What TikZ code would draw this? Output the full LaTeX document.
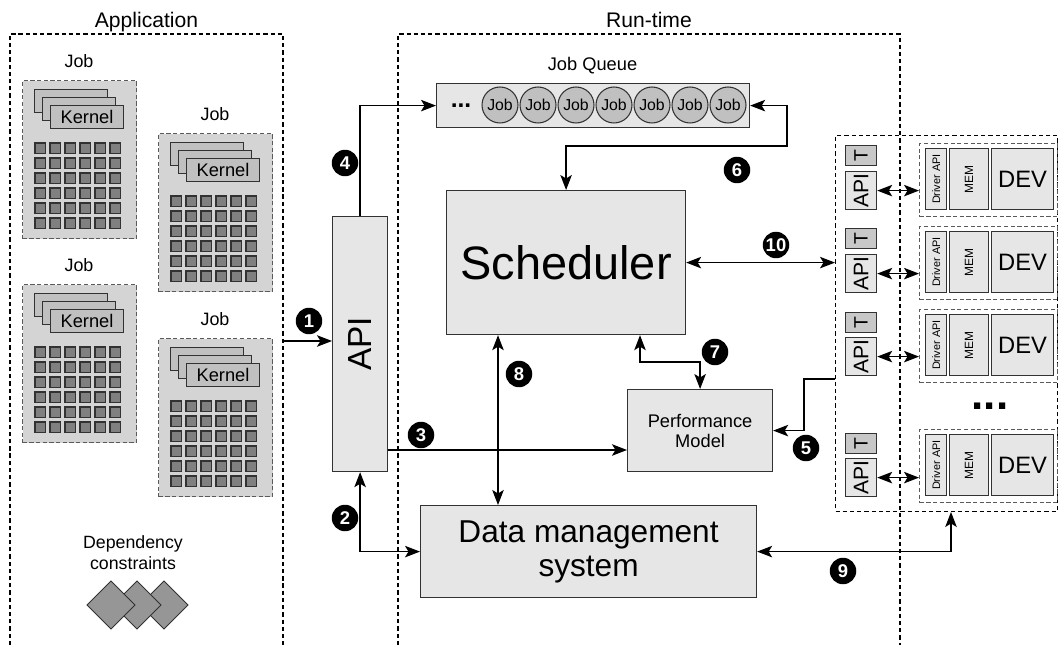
\documentclass[tikz,border=0pt]{standalone}
\usepackage{fontspec}
\setmainfont{Liberation Sans}
\usepackage{graphicx}
\usetikzlibrary{arrows.meta}

\definecolor{boxfill}{RGB}{230,230,230}
\definecolor{jobfill}{RGB}{212,212,212}
\definecolor{kernfill}{RGB}{192,192,192}
\definecolor{cellfill}{RGB}{128,128,128}
\definecolor{tokfill}{RGB}{192,192,192}
\definecolor{tagfill}{RGB}{200,200,200}
\definecolor{diafill}{RGB}{150,150,150}
\definecolor{edge}{RGB}{50,50,50}
\definecolor{dashgray}{RGB}{90,90,90}

% font size helper: size and baseline skip in pt
\newcommand\fs[2]{\fontsize{#1pt}{#2pt}\selectfont}

% rectangle node from top-left (x1,y1) to bottom-right (x2,y2), pixel units
\newcommand\pxbox[7]{%
  \node[#1, inner sep=0pt, anchor=north west,
        minimum width={(#5-#3)*0.2mm}, minimum height={(#6-#4)*0.2mm}]
        (#2) at (#3,#4) {#7};}

% one job: dashed panel, title, stacked kernels and a 6x6 data grid
\newcommand\jobblock[3]{%
  \node[jobbox, anchor=north west, minimum width=22.8mm, minimum height=31.6mm] (#1) at (#2,#3) {};
  \node[lbl, anchor=base, font=\fs{10.2}{12}] (#1-t) at (#2+57,#3-12) {Job};
  \node[kern, anchor=north west, minimum width=14.6mm, minimum height=4.6mm] (#1-k3) at (#2+12,#3+9) {};
  \node[kern, anchor=north west, minimum width=14.6mm, minimum height=4.6mm] (#1-k2) at (#2+20,#3+17) {};
  \node[kern, anchor=north west, minimum width=14.6mm, minimum height=4.6mm, font=\fs{10.4}{12}] (#1-k1) at (#2+28,#3+25) {Kernel};
  \foreach \i in {0,...,5} \foreach \j in {0,...,5}
    \draw[cell] (#2+13+15*\i, #3+63+15*\j) rectangle ++(10.5,10.5);
}

\tikzset{
  frame/.style={draw=black, line width=0.6pt, dash pattern=on 2.4pt off 1.7pt},
  blk/.style={draw=edge, fill=boxfill, line width=0.7pt, inner sep=0pt, align=center},
  jobbox/.style={draw=dashgray, fill=jobfill, line width=0.7pt, dash pattern=on 2.4pt off 1.4pt, inner sep=0pt},
  kern/.style={draw=edge, fill=kernfill, line width=0.6pt, inner sep=0pt},
  cell/.style={draw=edge, fill=cellfill, line width=0.6pt},
  tok/.style={circle, draw=edge, fill=tokfill, line width=0.6pt, minimum size=7.2mm, inner sep=0pt, font=\fs{9}{10}},
  tag/.style={draw=edge, fill=tagfill, line width=0.6pt, inner sep=0pt},
  devgrp/.style={draw=dashgray, line width=0.7pt, dash pattern=on 2.4pt off 1.4pt, inner sep=0pt},
  dia/.style={draw=edge, fill=diafill, line width=0.6pt},
  num/.style={circle, fill=black, text=white, font=\bfseries\fs{10.5}{11}, minimum size=5.3mm, inner sep=0pt},
  lbl/.style={inner sep=0pt},
  arr/.style={->, line width=0.7pt},
  dbl/.style={<->, line width=0.7pt},
}

\begin{document}
\begin{tikzpicture}[x=0.02cm, y=-0.02cm, >={Stealth[length=3mm,width=2.3mm,inset=0.7mm]}]
\useasboundingbox (0,0) rectangle (1059,645);

% ---------- section frames ----------
\draw[frame] (10,645) -- (10,34) -- (283,34) -- (283,645);
\draw[frame] (398,645) -- (398,34) -- (900,34) -- (900,645);
\node[lbl, anchor=base, font=\fs{12}{14}] (app-t) at (146.5,28) {Application};
\node[lbl, anchor=base, font=\fs{12}{14}] (rt-t) at (649,28) {Run-time};

% ---------- application side ----------
\jobblock{jobA}{22}{80}
\jobblock{jobB}{158}{133}
\jobblock{jobC}{22}{284}
\jobblock{jobD}{158}{338}

\node[lbl, align=center, font=\fs{10.1}{11.9}] (dep) at (133,553) {Dependency\\constraints};
\foreach \cx in {164,137,111}
  \draw[dia] (\cx-24,605) -- (\cx,581) -- (\cx+24,605) -- (\cx,629) -- cycle;

% ---------- runtime blocks ----------
\pxbox{blk}{api}{332}{216}{387}{471}{\rotatebox{90}{\fs{19}{20}API}}
\pxbox{blk}{queue}{436}{83}{749}{127}{}
\node[lbl, anchor=base, font=\fs{10.4}{12}] (queue-t) at (592.5,71) {Job Queue};
\node[lbl, anchor=base, font=\bfseries\fs{14}{14}] (queue-more) at (461,108) {...};
\foreach \k [count=\n] in {500,538,576,614,652,690,728}
  \node[tok] (job\n) at (\k,105) {Job};

\pxbox{blk, font=\fs{26.7}{28}}{sched}{446}{190}{685}{334}{Scheduler}
\pxbox{blk, font=\fs{10.4}{11.3}}{perf}{627}{389}{772}{471}{Performance\\Model}
\pxbox{blk, font=\fs{18}{19.3}}{dms}{420}{505}{756}{597}{Data management\\system}

% ---------- devices ----------
\pxbox{frame}{devs}{835}{135}{1057}{511}{}
\foreach \n/\t/\a/\d in {1/145/171/143, 2/228/254/226, 3/312/337/309, 4/433/458/429} {
  \node[tag, anchor=north west, minimum width=6.2mm, minimum height=4mm] (tag\n) at (845,\t) {\rotatebox{90}{\fs{11}{11}T}};
  \node[blk, anchor=north west, minimum width=6.2mm, minimum height=7.6mm] (hapi\n) at (845,\a) {\rotatebox{90}{\fs{12}{12}API}};
  \node[devgrp, anchor=north west, minimum width=27.6mm, minimum height=14.6mm] (grp\n) at (919,\d) {};
  \node[blk, anchor=north west, minimum width=4.2mm, minimum height=12.2mm] (drv\n) at (925,\d+5) {\rotatebox{90}{\fs{6.2}{6.5}Driver API}};
  \node[blk, anchor=north west, minimum width=7.8mm, minimum height=12.2mm] (mem\n) at (949,\d+5) {\rotatebox{90}{\fs{6.8}{7}MEM}};
  \node[blk, anchor=north west, minimum width=12.4mm, minimum height=12.2mm] (dev\n) at (991,\d+5) {\fs{13.5}{14}DEV};
  \draw[dbl] (hapi\n.east) -- (hapi\n.east -| grp\n.west);
}
\node[lbl, anchor=base, font=\bfseries\fs{25}{25}] (devs-more) at (990,410) {...};

% ---------- connectors ----------
\coordinate (appedge) at (283,341);
\coordinate (c3) at (400,450);
\coordinate (c5) at (804,379);
\coordinate (c6) at (787,146);
\coordinate (c7) at (640,362);
\coordinate (c8) at (498,400);
\coordinate (c9) at (951,550);

\draw[arr] (appedge) -- (appedge -| api.west);
\draw[dbl] (api.south) |- (dms.west);
\draw[arr] (api.east |- c3) -- (perf.west |- c3);
\draw[arr] (api.north) |- (queue.west);
\draw[arr] (devs.west |- c5) -| (c5 |- perf.east) -- (perf.east);
\draw[dbl] (queue.east) -| (c6) -| (sched.north);
\draw[dbl] (sched.south -| c7) |- (perf.north |- c7) -- (perf.north);
\draw[dbl] (sched.south -| c8) -- (dms.north -| c8);
\draw[dbl] (dms.east) -| (c9 |- devs.south);
\draw[dbl] (sched.east) -- (sched.east -| devs.west);

% ---------- step markers ----------
\node[num] (m1) at (309,321) {1};
\node[num] (m2) at (345,518) {2};
\node[num] (m3) at (421,435) {3};
\node[num] (m4) at (345,163) {4};
\node[num] (m5) at (806,448) {5};
\node[num] (m6) at (737,170) {6};
\node[num] (m7) at (715,352) {7};
\node[num] (m8) at (519,374) {8};
\node[num] (m9) at (843,571) {9};
\node[num] (m10) at (776,245) {10};
\end{tikzpicture}
\end{document}
